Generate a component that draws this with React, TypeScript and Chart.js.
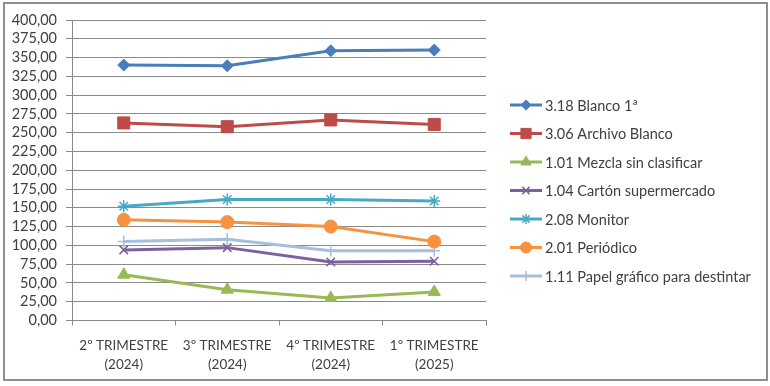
import React, { useEffect, useRef } from "react";
import { Chart, registerables } from "chart.js";
import { drawPoint } from "chart.js/helpers";

Chart.register(...registerables);

const categories: string[][] = [
  ["2º TRIMESTRE", "(2024)"],
  ["3º TRIMESTRE", "(2024)"],
  ["4º TRIMESTRE", "(2024)"],
  ["1º TRIMESTRE", "(2025)"],
];

const seriesNames = [
  "3.18 Blanco 1ª",
  "3.06 Archivo Blanco",
  "1.01 Mezcla sin clasificar",
  "1.04 Cartón supermercado",
  "2.08 Monitor",
  "2.01 Periódico",
  "1.11 Papel gráfico para destintar",
];

const blanco = [340, 339, 359, 360];
const archivo = [263, 258, 267, 261];
const mezcla = [61, 41, 30, 38];
const carton = [94, 97, 78, 79];
const monitor = [152, 161, 161, 159];
const periodico = [134, 131, 125, 105];
const papel = [105, 108, 93, 93];

const seriesValues = [blanco, archivo, mezcla, carton, monitor, periodico, papel];
const colors = ["#4A7EBB", "#BE4B48", "#98B954", "#7D60A0", "#46AAC5", "#F69240", "#A7BFDE"];
const styles = ["rectRot", "rect", "triangle", "crossRot", "star", "circle", "cross"];
const radii = [6, 8.5, 7, 6, 6, 6.5, 6];

const FONT = "Lato";
const TEXT = "#404040";
const GRID = "#8a8a8a";

export default function App() {
  const ref = useRef<HTMLCanvasElement>(null);
  useEffect(() => {
    if (!ref.current) return;
    const bgPlugin = {
      id: "bg",
      beforeDraw(chart: any) {
        const ctx = chart.ctx;
        ctx.save();
        ctx.fillStyle = "#ffffff";
        ctx.fillRect(0, 0, chart.width, chart.height);
        ctx.strokeStyle = "#8f8f8f";
        ctx.lineWidth = 2;
        ctx.strokeRect(4, 3, 763, 377);
        ctx.restore();
      },
    };
    const legendPlugin = {
      id: "customLegend",
      afterDraw(chart: any) {
        const ctx = chart.ctx;
        ctx.save();
        const x0 = 510, x1 = 542, tx = 545;
        const y0 = 105, dy = 28.5;
        seriesNames.forEach((name, i) => {
          const y = y0 + i * dy;
          ctx.strokeStyle = colors[i];
          ctx.lineWidth = 3;
          ctx.beginPath();
          ctx.moveTo(x0, y);
          ctx.lineTo(x1, y);
          ctx.stroke();
          ctx.fillStyle = colors[i];
          ctx.lineWidth = styles[i] === "cross" || styles[i] === "crossRot" || styles[i] === "star" ? 1.5 : 1;
          drawPoint(ctx, { pointStyle: styles[i], radius: radii[i] * 0.85, rotation: 0, borderWidth: 1 } as any, (x0 + x1) / 2, y);
          ctx.fillStyle = TEXT;
          ctx.font = `14.5px ${FONT}`;
          ctx.textBaseline = "middle";
          ctx.textAlign = "left";
          ctx.fillText(name, tx, y + 1);
        });
        ctx.restore();
      },
    };
    const chart = new Chart(ref.current, {
      type: "line",
      data: {
        labels: categories as any,
        datasets: seriesValues.map((vals, i) => ({
          label: seriesNames[i],
          data: vals,
          borderColor: colors[i],
          backgroundColor: colors[i],
          borderWidth: 3,
          pointStyle: styles[i] as any,
          pointRadius: radii[i],
          pointBorderWidth: styles[i] === "cross" || styles[i] === "crossRot" || styles[i] === "star" ? 1.5 : 1,
          pointBorderColor: colors[i],
          pointBackgroundColor: colors[i],
          tension: 0,
          fill: false,
        })),
      },
      options: {
        animation: false,
        responsive: false,
        maintainAspectRatio: false,
        layout: { padding: { left: 0, right: 284, top: 20, bottom: 0 } },
        plugins: { legend: { display: false }, tooltip: { enabled: false } },
        scales: {
          x: {
            offset: true,
            grid: { drawOnChartArea: false, drawTicks: true, tickLength: 5, color: GRID, offset: true },
            border: { color: GRID, width: 1 },
            ticks: { color: TEXT, font: { family: FONT, size: 13.5, lineHeight: 1.45 }, padding: 10, maxRotation: 0, autoSkip: false },
            afterFit(scale: any) { scale.height = 65.5; },
          },
          y: {
            min: 0,
            max: 400,
            grid: { color: GRID, tickLength: 6, lineWidth: 1 },
            border: { color: GRID, width: 1 },
            ticks: {
              stepSize: 25,
              autoSkip: false,
              color: TEXT,
              padding: 9,
              font: { family: FONT, size: 14.5, lineHeight: 1 },
              callback: (v: any) => Number(v).toFixed(2).replace(".", ","),
            },
            afterFit(scale: any) { scale.width = 72; },
          },
        },
      },
      plugins: [bgPlugin, legendPlugin],
    });
    return () => chart.destroy();
  }, []);
  return (
    <div style={{ position: "fixed", left: 0, top: 0, width: 770, height: 386 }}>
      <canvas ref={ref} width={770} height={386} style={{ width: 770, height: 386 }} />
    </div>
  );
}
